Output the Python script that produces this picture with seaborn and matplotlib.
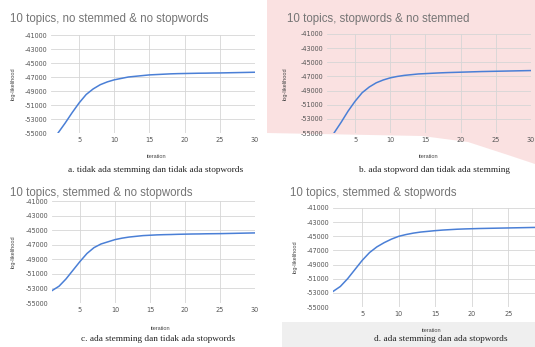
import matplotlib
matplotlib.use("Agg")
import matplotlib.pyplot as plt
import seaborn as sns
import pandas as pd
from matplotlib.patches import Polygon, Rectangle

# --- datos (log-likelihood por iteracion) ---
iter_a = list(range(2, 31))
ll_a = [-55000, -53600, -52100, -50700, -49500, -48700, -48100, -47700, -47400,
        -47200, -47000, -46900, -46800, -46700, -46650, -46600, -46550, -46520,
        -46500, -46480, -46460, -46450, -46430, -46420, -46400, -46380, -46360,
        -46340, -46320]

iter_b = list(range(2, 31))
ll_b = [-55000, -53500, -51900, -50500, -49300, -48500, -47900, -47500, -47200,
        -47000, -46850, -46750, -46650, -46600, -46550, -46500, -46460, -46430,
        -46400, -46370, -46340, -46310, -46290, -46270, -46250, -46230, -46210,
        -46190, -46170]

iter_c = list(range(1, 31))
ll_c = [-53300, -52700, -51700, -50500, -49300, -48200, -47400, -46900, -46600,
        -46300, -46100, -45950, -45850, -45750, -45700, -45650, -45620, -45600,
        -45570, -45550, -45530, -45520, -45500, -45490, -45480, -45460, -45440,
        -45420, -45400, -45380]

iter_d = list(range(1, 31))
ll_d = [-52800, -52100, -51000, -49700, -48400, -47300, -46500, -45900, -45400,
        -45000, -44750, -44550, -44400, -44300, -44200, -44120, -44060, -44000,
        -43960, -43930, -43900, -43880, -43860, -43840, -43820, -43800, -43780,
        -43760, -43740, -43720]

titles = ["10 topics, no stemmed & no stopwords",
          "10 topics, stopwords & no stemmed",
          "10 topics, stemmed & no stopwords",
          "10 topics, stemmed & stopwords"]
captions = ["a. tidak ada stemming dan tidak ada stopwords",
            "b. ada stopword dan tidak ada stemming",
            "c. ada stemming dan tidak ada stopwords",
            "d. ada stemming dan ada stopwords"]
y_ticks = [-41000, -43000, -45000, -47000, -49000, -51000, -53000, -55000]
x_ticks = [5, 10, 15, 20, 25, 30]

W, H = 535, 347
fig = plt.figure(figsize=(W / 100, H / 100), dpi=100)
fig.patch.set_facecolor("white")


def fx(px):
    return px / W


def fy(py):
    return 1 - py / H


# fondo rosado del panel b (artefacto de la captura)
pink = Polygon([(fx(267), fy(0)), (fx(535), fy(0)), (fx(535), fy(164)),
                (fx(508), fy(155)), (fx(468), fy(142)), (fx(422), fy(136)),
                (fx(267), fy(133))], closed=True, transform=fig.transFigure,
               facecolor="#fae1e1", edgecolor="none", zorder=-10)
fig.patches.append(pink)
# banda gris del panel d
grey = Rectangle((fx(282), 0), fx(535) - fx(282), fy(322), transform=fig.transFigure,
                 facecolor="#efefef", edgecolor="none", zorder=-10)
fig.patches.append(grey)

# (izq, arriba, der, abajo) en pixeles
boxes = [(51, 35, 255, 133), (327, 34, 531, 133),
         (52, 201, 255, 303), (333, 208, 545, 307)]
title_pos = [(10, 19), (287, 19), (10, 193), (290, 193)]
xlabel_pos = [(156, 157), (428, 157), (160, 329), (431, 330)]
ylabel_pos = [(13, 84), (285, 84), (13, 252), (295, 257)]
caption_pos = [(156, 170), (434, 170), (158, 339), (441, 339)]
series = [(iter_a, ll_a), (iter_b, ll_b), (iter_c, ll_c), (iter_d, ll_d)]

for i, (l, t, r, b) in enumerate(boxes):
    ax = fig.add_axes([fx(l), fy(b), fx(r) - fx(l), fy(t) - fy(b)])
    ax.set_facecolor("none")
    xs, ys = series[i]
    df = pd.DataFrame({"iteration": xs, "ll": ys})
    sns.lineplot(data=df, x="iteration", y="ll", ax=ax, color="#4a7fd6",
                 linewidth=1.1)
    ax.set_xlim(1, 30)
    ax.set_ylim(-55000, -41000)
    ax.set_xticks(x_ticks)
    if i == 3:
        # el panel d esta recortado a la derecha: la etiqueta 30 no se ve
        ax.set_xticklabels([str(v) if v < 30 else "" for v in x_ticks])
    ax.set_yticks(y_ticks)
    ax.set_yticklabels([str(v) for v in y_ticks])
    ax.tick_params(length=0, labelsize=4.7, labelcolor="#555555", pad=3)
    ax.grid(True, color="#d6d6d6", linewidth=0.6)
    ax.set_axisbelow(True)
    for s in ax.spines.values():
        s.set_visible(False)
    ax.set_xlabel("")
    ax.set_ylabel("")

    fig.text(fx(title_pos[i][0]), fy(title_pos[i][1]), titles[i], ha="left", va="center",
             fontsize=8.3, color="#757575", family="Liberation Sans")
    fig.text(fx(xlabel_pos[i][0]), fy(xlabel_pos[i][1]), "iteration", ha="center",
             va="center", fontsize=4, color="#444444", family="Liberation Sans")
    fig.text(fx(ylabel_pos[i][0]), fy(ylabel_pos[i][1]), "log-likelihood", ha="center",
             va="center", rotation=90, fontsize=4, color="#444444",
             family="Liberation Sans")
    fig.text(fx(caption_pos[i][0]), fy(caption_pos[i][1]), captions[i], ha="center",
             va="center", fontsize=6.7, color="#222222", family="Liberation Serif")

plt.savefig("out.png", dpi=100)
